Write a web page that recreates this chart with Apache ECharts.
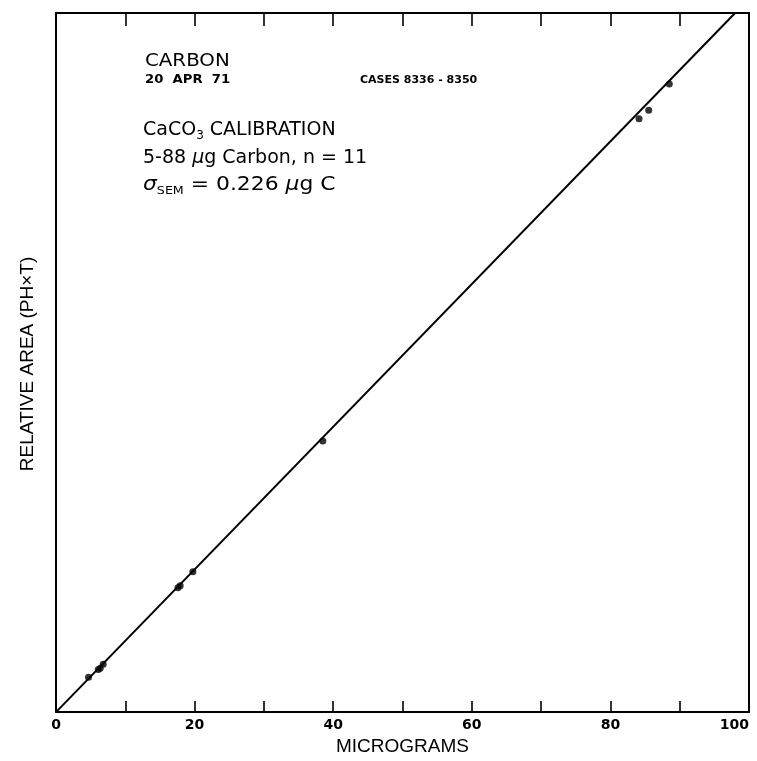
<!DOCTYPE html>
<html>
<head>
<meta charset="utf-8">
<script src="https://cdn.jsdelivr.net/npm/echarts@6/dist/echarts.min.js"></script>
<style>
  html, body { margin: 0; padding: 0; background: #ffffff; }
  #chart { width: 757px; height: 761px; }
</style>
</head>
<body>
<div id="chart"></div>
<script>
// CaCO3 carbon calibration standards: carbon mass vs relative peak area (PH x T)
const microgramValues    = [4.69, 6.10, 6.38, 6.81, 17.60, 17.92, 19.75, 38.50, 84.13, 85.53, 88.50];
const relativeAreaValues = [4.99, 6.10, 6.27, 6.84, 17.80, 18.09, 20.09, 38.79, 84.86, 86.08, 89.84];

// End points of the fitted calibration line
const fitMicrograms = [0, 98.0];
const fitArea       = [0, 100];

// Axis ticks: every 10 units, labelled every 20
const xTickValues = [0, 10, 20, 30, 40, 50, 60, 70, 80, 90, 100];
const xTickLabels = ['0', '20', '40', '60', '80', '100'];

const ink = '#000000';
const blockFont = '"DejaVu Sans", sans-serif';
const pointData = microgramValues.map((m, i) => [m, relativeAreaValues[i]]);
const fitData = fitMicrograms.map((m, i) => [m, fitArea[i]]);

const chart = echarts.init(document.getElementById('chart'), null, { renderer: 'canvas' });

const frameLine = { show: true, onZero: false, lineStyle: { color: ink, width: 2 } };

chart.setOption({
  backgroundColor: '#ffffff',
  animation: false,
  grid: { left: 56, right: 8, top: 13, bottom: 46, containLabel: false },
  xAxis: [
    {
      type: 'value',
      position: 'bottom',
      min: xTickValues[0],
      max: xTickValues[xTickValues.length - 1],
      interval: xTickValues[1] - xTickValues[0],
      axisLine: frameLine,
      axisTick: { show: true, inside: true, length: 11, lineStyle: { color: ink, width: 1.6 } },
      splitLine: { show: false },
      axisLabel: {
        color: ink,
        fontFamily: '"DejaVu Sans", sans-serif',
        fontWeight: 'bold',
        fontSize: 14,
        margin: 6,
        alignMaxLabel: 'right',
        formatter: v => (xTickLabels.includes(String(v)) ? String(v) : '')
      },
      name: 'MICROGRAMS',
      nameLocation: 'middle',
      nameGap: 23,
      nameTextStyle: { color: ink, fontFamily: '"Liberation Sans", Arial, sans-serif', fontSize: 19 }
    },
    {
      type: 'value',
      position: 'top',
      min: xTickValues[0],
      max: xTickValues[xTickValues.length - 1],
      interval: xTickValues[1] - xTickValues[0],
      axisLine: frameLine,
      axisTick: { show: true, inside: true, length: 13, lineStyle: { color: ink, width: 1.6 } },
      axisLabel: { show: false },
      splitLine: { show: false }
    }
  ],
  yAxis: [
    {
      type: 'value',
      position: 'left',
      min: 0,
      max: 100,
      axisLine: frameLine,
      axisTick: { show: false },
      axisLabel: { show: false },
      splitLine: { show: false }
    },
    {
      type: 'value',
      position: 'right',
      min: 0,
      max: 100,
      axisLine: frameLine,
      axisTick: { show: false },
      axisLabel: { show: false },
      splitLine: { show: false }
    }
  ],
  graphic: [
    {
      type: 'text', x: 28, y: 364, rotation: Math.PI / 2,
      style: {
        text: 'RELATIVE AREA (PH\u00d7T)', fill: ink,
        font: '19px "Liberation Sans", Arial, sans-serif',
        align: 'center', verticalAlign: 'middle'
      }
    },
    {
      type: 'text', x: 145, y: 61, scaleX: 1.1,
      style: {
        text: 'CARBON', fill: ink,
        font: '18px ' + blockFont,
        align: 'left', verticalAlign: 'middle'
      }
    },
    {
      type: 'text', x: 145, y: 80, scaleX: 1.1,
      style: {
        text: '20  APR  71', fill: ink,
        font: 'bold 12px ' + blockFont,
        align: 'left', verticalAlign: 'middle'
      }
    },
    {
      type: 'text', x: 360, y: 80,
      style: {
        text: 'CASES 8336 - 8350', fill: ink,
        font: 'bold 11px ' + blockFont,
        align: 'left', verticalAlign: 'middle'
      }
    },
    {
      type: 'text', x: 143, y: 130,
      style: {
        text: '{a|CaCO}{s|3}{a| CALIBRATION}',
        align: 'left', verticalAlign: 'middle',
        rich: {
          a: { fontSize: 19, fontFamily: blockFont, color: ink, lineHeight: 24 },
          s: { fontSize: 12, fontFamily: blockFont, color: ink, lineHeight: 10, verticalAlign: 'bottom' }
        }
      }
    },
    {
      type: 'text', x: 143, y: 158,
      style: {
        text: '{a|5-88 }{i|\u03bc}{a|g Carbon, n = 11}',
        align: 'left', verticalAlign: 'middle',
        rich: {
          a: { fontSize: 19, fontFamily: blockFont, color: ink, lineHeight: 24 },
          i: { fontSize: 19, fontStyle: 'italic', fontFamily: blockFont, color: ink, lineHeight: 24 }
        }
      }
    },
    {
      type: 'text', x: 143, y: 185, scaleX: 1.15,
      style: {
        text: '{i|\u03c3}{s|SEM}{a| = 0.226 }{i|\u03bc}{a|g C}',
        align: 'left', verticalAlign: 'middle',
        rich: {
          a: { fontSize: 19, fontFamily: blockFont, color: ink, lineHeight: 24 },
          i: { fontSize: 19, fontStyle: 'italic', fontFamily: blockFont, color: ink, lineHeight: 24 },
          s: { fontSize: 11, fontFamily: blockFont, color: ink, lineHeight: 10, verticalAlign: 'bottom' }
        }
      }
    }
  ],
  series: [
    {
      type: 'line',
      name: 'fit',
      xAxisIndex: 0,
      yAxisIndex: 0,
      data: fitData,
      showSymbol: false,
      symbol: 'none',
      lineStyle: { color: ink, width: 2 },
      silent: true
    },
    {
      type: 'scatter',
      name: 'standards',
      xAxisIndex: 0,
      yAxisIndex: 0,
      data: pointData,
      symbol: 'circle',
      symbolSize: 7,
      itemStyle: { color: ink }
    }
  ]
});
</script>
</body>
</html>
